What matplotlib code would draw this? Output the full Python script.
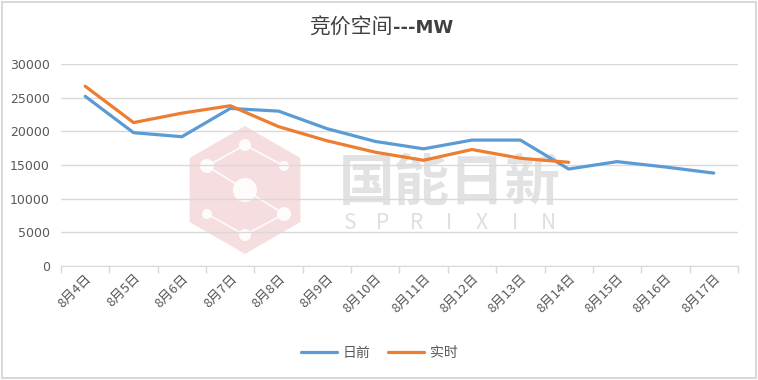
import numpy as np
import matplotlib
matplotlib.use("Agg")
import matplotlib.pyplot as plt
from matplotlib.patches import RegularPolygon, Circle, Rectangle

plt.rcParams['font.family'] = ['Noto Sans CJK SC', 'DejaVu Sans']

dates = ["8月4日", "8月5日", "8月6日", "8月7日", "8月8日", "8月9日", "8月10日",
         "8月11日", "8月12日", "8月13日", "8月14日", "8月15日", "8月16日", "8月17日"]
day_ahead = [25200, 19800, 19200, 23400, 23000, 20400, 18500,
             17400, 18700, 18700, 14400, 15500, 14700, 13800]
real_time = [26700, 21300, 22700, 23800, 20700, 18600, 16900,
             15700, 17300, 16000, 15400]

blue = "#5B9BD5"
orange = "#ED7D31"
grid_c = "#D9D9D9"
text_c = "#595959"

fig = plt.figure(figsize=(7.58, 3.8), dpi=100)
# outer chart border
fig.patches.append(Rectangle((1.5 / 758, 2 / 380), 754 / 758, 376 / 380,
                             transform=fig.transFigure, fill=False,
                             edgecolor="#D9D9D9", lw=1.5))
ax = fig.add_axes([0.0805, 0.30, 0.893, 0.5316])

# watermark
wm = fig.add_axes([0, 0, 1, 1], zorder=0)
wm.set_xlim(0, 758)
wm.set_ylim(380, 0)
wm.axis("off")
wm.add_patch(RegularPolygon((245, 190), 6, radius=64, orientation=0,
                            color="#E8A0A8", alpha=0.35, lw=0))
for cx, cy, r in [(207, 166, 7), (245, 145, 6), (284, 166, 5), (245, 190, 12),
                  (207, 214, 5), (245, 235, 6), (284, 214, 7)]:
    wm.add_patch(Circle((cx, cy), r, color="white", alpha=0.9, lw=0))
wm.plot([207, 245, 284], [166, 145, 166], color="white", lw=1.2, alpha=0.9)
wm.plot([207, 284], [166, 214], color="white", lw=1.2, alpha=0.9)
wm.plot([207, 245, 284], [214, 235, 214], color="white", lw=1.2, alpha=0.9)
wm.text(450, 184, "国能日新", fontsize=40, fontweight="bold", color="#BFBFBF",
        alpha=0.45, ha="center", va="center")
for i, ch in enumerate("SPRIXIN"):
    wm.text(350 + i * 33, 223, ch, fontsize=15, color="#BFBFBF",
            alpha=0.5, ha="center", va="center")

ax.set_zorder(1)
ax.patch.set_alpha(0)
x = np.arange(len(dates))
ax.plot(x, day_ahead, color=blue, lw=2.3, label="日前", solid_capstyle="round")
ax.plot(x[:len(real_time)], real_time, color=orange, lw=2.3, label="实时",
        solid_capstyle="round")

ax.set_xlim(-0.5, len(dates) - 0.5)
ax.set_ylim(0, 30000)
ax.set_yticks(np.arange(0, 30001, 5000))
ax.yaxis.grid(True, color=grid_c, lw=1)
ax.set_axisbelow(True)
ax.tick_params(axis="y", length=0, labelcolor=text_c, pad=8)
for lab in ax.get_yticklabels():
    lab.set_fontfamily("DejaVu Sans")
    lab.set_fontsize(9)

ax.set_xticks(x)
ax.set_xticklabels(dates, rotation=45, ha="right", va="top", rotation_mode="anchor")
ax.set_xticks(np.arange(-0.5, len(dates)), minor=True)
ax.tick_params(axis="x", which="major", length=0, labelsize=9.5, labelcolor=text_c, pad=4)
ax.tick_params(axis="x", which="minor", length=5, color=grid_c, width=1)

for s in ["top", "right", "left"]:
    ax.spines[s].set_visible(False)
ax.spines["bottom"].set_color(grid_c)

fig.text(393 / 758, 0.926, "竞价空间", ha="right", va="center", fontsize=15,
         color="#404040")
fig.text(393 / 758, 0.926, "---MW", ha="left", va="center", fontsize=13,
         color="#404040", fontweight="bold", family="DejaVu Sans")

fig.legend(loc="center", bbox_to_anchor=(0.5, 0.072), ncol=2, frameon=False,
           fontsize=10, labelcolor=text_c, handlelength=2.6, columnspacing=1.3,
           handletextpad=0.4)

fig.savefig("out.png", dpi=100)
